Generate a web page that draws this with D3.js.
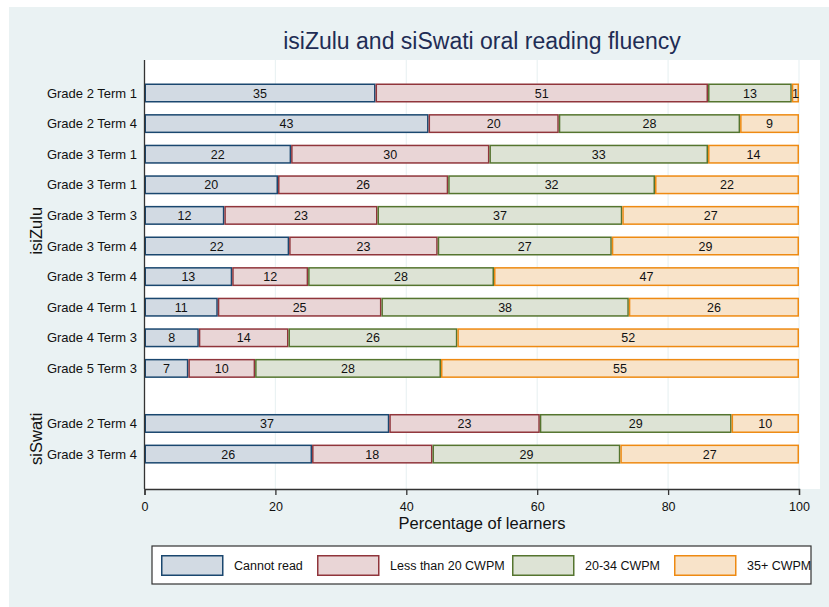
<html>
  <head>
    <title>isiZulu and siSwati oral reading fluency</title>
    <script src="https://d3js.org/d3.v7.min.js"></script>
    <style>
      body { margin: 0; background: #fff; }
      text { font-family: "Liberation Sans", Arial, Helvetica, sans-serif; }
    </style>
  </head>
  <body>
    <svg width="829" height="607" id="chart"></svg>
  </body>

  <script type="text/javascript">

    var categories = ["Grade 2 Term 1", "Grade 2 Term 4", "Grade 3 Term 1", "Grade 3 Term 1",
                      "Grade 3 Term 3", "Grade 3 Term 4", "Grade 3 Term 4", "Grade 4 Term 1",
                      "Grade 4 Term 3", "Grade 5 Term 3", "Grade 2 Term 4", "Grade 3 Term 4"];
    var languages  = ["isiZulu", "isiZulu", "isiZulu", "isiZulu", "isiZulu", "isiZulu",
                      "isiZulu", "isiZulu", "isiZulu", "isiZulu", "siSwati", "siSwati"];
    var cannotRead = [35.3, 43.4, 22.4, 20.4, 12.2, 22.1, 13.4, 11.2, 8.3, 6.7, 37.4, 25.6];
    var lessThan20 = [50.8, 19.9, 30.3, 26.0, 23.4, 22.7, 11.6, 25.0, 13.7, 10.2, 23.0, 18.4];
    var cwpm20to34 = [12.8, 27.7, 33.4, 31.6, 37.4, 26.6, 28.4, 37.8, 25.8, 28.4, 29.3, 28.7];
    var cwpm35plus = [1.1, 9.0, 13.9, 22.0, 27.0, 28.6, 46.6, 26.0, 52.2, 54.7, 10.3, 27.3];
    var seriesNames = ["Cannot read", "Less than 20 CWPM", "20-34 CWPM", "35+ CWPM"];
    var xTicks = [0, 20, 40, 60, 80, 100];

    var fills   = ["#d2dae3", "#e9d5d6", "#dde3d5", "#f8e3c9"];
    var strokes = ["#1a476f", "#90353b", "#55752f", "#ee8a12"];

    var svg = d3.select("#chart");
    var plot = { left: 144.5, right: 820, top: 60, bottom: 489 };

    // outer background
    svg.append("rect").attr("x", 9).attr("y", 7).attr("width", 820).attr("height", 600)
        .attr("fill", "#eaf2f3");
    svg.append("rect").attr("x", plot.left).attr("y", plot.top)
        .attr("width", plot.right - plot.left).attr("height", plot.bottom - plot.top)
        .attr("fill", "#fff");

    var x = d3.scaleLinear().domain([0, 100]).range([144.5, 799]);

    // row position: index plus a gap before the second language group
    var groupGap = 0.8;
    var rowPos = categories.map(function(c, i) {
        return i + (languages[i] === "siSwati" ? groupGap : 0);
    });
    var y = d3.scaleLinear().domain([0, 1]).range([93, 123.6]);
    var barH = 17.5;

    // gridlines
    svg.append("g").selectAll("line").data(xTicks.slice(1)).enter().append("line")
        .attr("x1", function(d){ return x(d); }).attr("x2", function(d){ return x(d); })
        .attr("y1", plot.top).attr("y2", plot.bottom)
        .attr("stroke", "#eaf2f3").attr("stroke-width", 1.2);

    // bars
    var series = [cannotRead, lessThan20, cwpm20to34, cwpm35plus];
    var rows = categories.map(function(c, i) {
        var start = 0;
        return series.map(function(s, k) {
            var seg = { row: i, k: k, x0: start, x1: start + s[i], v: s[i] };
            start += s[i];
            return seg;
        });
    });
    var segs = [].concat.apply([], rows);

    var bars = svg.append("g");
    bars.selectAll("rect").data(segs).enter().append("rect")
        .attr("x", function(d){ return x(d.x0) + 0.75; })
        .attr("width", function(d){ return Math.max(0, x(d.x1) - x(d.x0) - 1.5); })
        .attr("y", function(d){ return y(rowPos[d.row]) - barH / 2; })
        .attr("height", barH)
        .attr("fill", function(d){ return fills[d.k]; })
        .attr("stroke", function(d){ return strokes[d.k]; })
        .attr("stroke-width", 1.5);

    bars.selectAll("text").data(segs).enter().append("text")
        .attr("x", function(d){ return x((d.x0 + d.x1) / 2); })
        .attr("y", function(d){ return y(rowPos[d.row]) + 4.5; })
        .attr("text-anchor", "middle")
        .attr("font-size", 12.5)
        .attr("fill", "#111")
        .text(function(d){ return Math.round(d.v); });

    // category labels
    svg.append("g").selectAll("text").data(categories).enter().append("text")
        .attr("x", 137)
        .attr("y", function(d, i){ return y(rowPos[i]) + 4.5; })
        .attr("text-anchor", "end")
        .attr("font-size", 13)
        .attr("fill", "#111")
        .text(function(d){ return d; });

    // group labels
    var groupNames = ["isiZulu", "siSwati"];
    svg.append("g").selectAll("text").data(groupNames).enter().append("text")
        .attr("transform", function(g) {
            var idx = rowPos.filter(function(p, i){ return languages[i] === g; });
            var cy = (y(d3.min(idx)) + y(d3.max(idx))) / 2;
            return "translate(42," + cy + ") rotate(-90)";
        })
        .attr("text-anchor", "middle")
        .attr("font-size", 16.5)
        .attr("fill", "#111")
        .text(function(g){ return g; });

    // axes
    svg.append("line").attr("x1", plot.left).attr("x2", plot.left)
        .attr("y1", plot.top).attr("y2", plot.bottom)
        .attr("stroke", "#333").attr("stroke-width", 1.3);

    var xAxis = d3.axisBottom(x).tickValues(xTicks).tickSize(6).tickPadding(7);
    var gx = svg.append("g").attr("transform", "translate(0," + plot.bottom + ")").call(xAxis);
    gx.select(".domain").attr("stroke", "#333").attr("stroke-width", 1.3);
    gx.selectAll(".tick line").attr("stroke", "#333").attr("stroke-width", 1.3);
    gx.selectAll(".tick text").attr("font-size", 12.5).attr("fill", "#111")
        .attr("font-family", "Liberation Sans, Arial, sans-serif");

    svg.append("text").attr("x", 482).attr("y", 529)
        .attr("text-anchor", "middle").attr("font-size", 16.5).attr("fill", "#111")
        .text("Percentage of learners");

    // title
    svg.append("text").attr("x", 482).attr("y", 49)
        .attr("text-anchor", "middle").attr("font-size", 23).attr("fill", "#1f2d55")
        .text("isiZulu and siSwati oral reading fluency");

    // legend
    var leg = svg.append("g");
    leg.append("rect").attr("x", 152).attr("y", 546).attr("width", 659).attr("height", 38)
        .attr("fill", "#fff").attr("stroke", "#333").attr("stroke-width", 1.2);
    var keyX = [161, 317, 512, 674];
    var item = leg.selectAll("g.key").data(seriesNames).enter().append("g").attr("class", "key")
        .attr("transform", function(d, i){ return "translate(" + keyX[i] + ",555)"; });
    item.append("rect").attr("x", 0.75).attr("y", 0.75).attr("width", 61).attr("height", 19.5)
        .attr("fill", function(d, i){ return fills[i]; })
        .attr("stroke", function(d, i){ return strokes[i]; })
        .attr("stroke-width", 1.5);
    item.append("text").attr("x", 73).attr("y", 15)
        .attr("font-size", 12.5).attr("fill", "#111")
        .text(function(d){ return d; });

  </script>
</html>
